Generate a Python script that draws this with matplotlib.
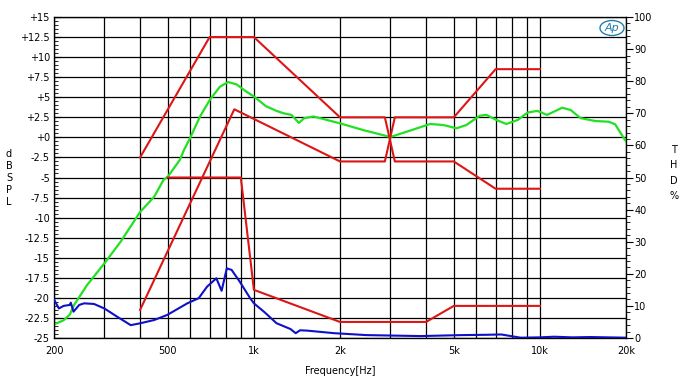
import matplotlib
matplotlib.use("Agg")
import matplotlib.pyplot as plt
from matplotlib.patches import Ellipse
import numpy as np

# ---------------- data ----------------
# Frequency response (dB SPL, left axis)
fr_freq = [200, 216, 227, 235, 261, 300, 342, 400, 448, 483, 500, 551, 569, 598, 648, 702, 760,
           812, 870, 941, 1000, 1049, 1100, 1200, 1270, 1352, 1436, 1500, 1617, 2000, 2416, 3000,
           3419, 4132, 4593, 5112, 5530, 6163, 6500, 7040, 7630, 8370, 9060, 9800, 10600, 11970,
           12820, 13870, 15600, 17400, 18330, 19340, 20000]
fr_db = [-23.3, -22.8, -22.1, -20.9, -18.4, -15.7, -13.0, -9.3, -7.4, -5.3, -4.9, -2.8, -1.6, -0.1,
         2.6, 4.7, 6.3, 6.9, 6.6, 5.7, 5.1, 4.5, 3.9, 3.3, 3.0, 2.8, 1.8, 2.4, 2.6, 1.75, 0.9, 0.05,
         0.7, 1.67, 1.54, 1.13, 1.54, 2.7, 2.8, 2.17, 1.67, 2.17, 3.1, 3.3, 2.8, 3.7,
         3.4, 2.4, 2.04, 1.95, 1.63, 0.3, -0.5]

# THD (% , right axis)
thd_freq = [200, 208, 216, 227, 229, 234, 245, 255, 276, 300, 333, 371, 401, 448, 498, 585, 641,
            686, 739, 771, 804, 836, 893, 970, 1000, 1084, 1200, 1342, 1400, 1450, 1535, 1908,
            2480, 3830, 5300, 6500, 7325, 8560, 10000, 11200, 13000, 15000, 20000]
thd_pct = [12.0, 9.2, 10.0, 10.3, 11.0, 8.2, 10.3, 10.8, 10.6, 9.2, 6.6, 4.0, 4.6, 5.6, 7.2, 10.8,
           12.4, 16.0, 18.6, 14.7, 21.7, 21.2, 17.5, 12.4, 10.8, 8.2, 4.6, 2.8, 1.5, 2.4, 2.3, 1.5,
           0.9, 0.6, 0.9, 1.0, 1.1, 0.1, 0.2, 0.4, 0.2, 0.3, 0.1]

# Response limit lines (dB)
limA_freq = [400, 700, 1000, 2000, 2870, 3110, 5000, 7000, 10000]
limA_db = [-2.5, 12.5, 12.5, 2.5, 2.5, -3.0, -3.0, -6.4, -6.4]
limB_freq = [400, 854, 2000, 2870, 3110, 5000, 7000, 10000]
limB_db = [-21.5, 3.5, -3.0, -3.0, 2.5, 2.5, 8.5, 8.5]

# THD limit line (%)
thdlim_freq = [500, 900, 1000, 2000, 4000, 5000, 10000]
thdlim_pct = [50, 50, 15, 5, 5, 10, 10]

# axis labelling
grid_freqs = [200, 300, 400, 500, 600, 700, 800, 900, 1000, 2000, 3000, 4000, 5000,
              6000, 7000, 8000, 9000, 10000, 20000]
xlabel_map = {200: "200", 500: "500", 1000: "1k", 2000: "2k", 5000: "5k", 10000: "10k", 20000: "20k"}
db_ticks = np.arange(-25, 15.01, 2.5)
thd_ticks = np.arange(0, 101, 10)

# ---------------- figure ----------------
plt.rcParams['font.family'] = ['DejaVu Sans']
fig = plt.figure(figsize=(6.82, 3.87), dpi=100)
ax = fig.add_axes([54/682, 1-338/387, (626-54)/682, (338-17)/387])

ax.set_xscale('log')
ax.set_xlim(200, 20000)
ax.set_ylim(-25, 15)

ax.set_xticks(grid_freqs)
ax.set_xticklabels([xlabel_map.get(f, "") for f in grid_freqs], fontsize=7)
ax.xaxis.set_minor_locator(matplotlib.ticker.NullLocator())
ax.tick_params(axis='x', which='both', length=0, pad=6)

def fmt_db(v):
    if abs(v - round(v)) < 1e-9:
        s = f"{int(round(v))}"
    else:
        s = f"{v:.1f}"
    if v >= 0:
        s = "+" + s
    return s

ax.set_yticks(db_ticks)
ax.set_yticklabels([fmt_db(v) for v in db_ticks], fontsize=7)
ax.yaxis.set_minor_locator(matplotlib.ticker.MultipleLocator(0.5))
ax.tick_params(axis='y', which='major', direction='in', length=5, width=0.8, pad=3)
ax.tick_params(axis='y', which='minor', direction='in', length=3, width=0.6)

ax.grid(True, which='major', color='black', linewidth=0.9)
for s in ax.spines.values():
    s.set_linewidth(0.9)

ax.plot(fr_freq, fr_db, color='#22e022', linewidth=1.6, zorder=3)
ax.plot(limA_freq, limA_db, color='#dd1515', linewidth=1.5, zorder=3)
ax.plot(limB_freq, limB_db, color='#dd1515', linewidth=1.5, zorder=3)

ax2 = ax.twinx()
ax2.set_ylim(0, 100)
ax2.set_yticks(thd_ticks)
ax2.set_yticklabels([str(int(v)) for v in thd_ticks], fontsize=7)
ax2.yaxis.set_minor_locator(matplotlib.ticker.MultipleLocator(2))
ax2.tick_params(axis='y', which='major', direction='out', length=5, width=0.8, pad=1)
ax2.tick_params(axis='y', which='minor', direction='out', length=3, width=0.6)
ax2.plot(thd_freq, thd_pct, color='#1010c8', linewidth=1.5, zorder=3)
ax2.plot(thdlim_freq, thdlim_pct, color='#dd1515', linewidth=1.5, zorder=3)

ax.set_xlabel("Frequency[Hz]", fontsize=7, labelpad=7)

fig.text(9/682, 1-178/387, "d\nB\nS\nP\nL", fontsize=7, ha='center', va='center', linespacing=1.25)
fig.text(674/682, 1-173/387, "T\nH\nD\n%", fontsize=7, ha='center', va='center', linespacing=1.65)

# AP logo
ell = Ellipse((612/682, 1-28/387), 24/682, 15/387, transform=fig.transFigure,
              fill=False, edgecolor='#2080b0', linewidth=1.0)
fig.patches.append(ell)
fig.text(612/682, 1-28/387, "Ap", fontsize=8, style='italic', color='#2080b0',
         ha='center', va='center')

fig.savefig("out.png", dpi=100)
